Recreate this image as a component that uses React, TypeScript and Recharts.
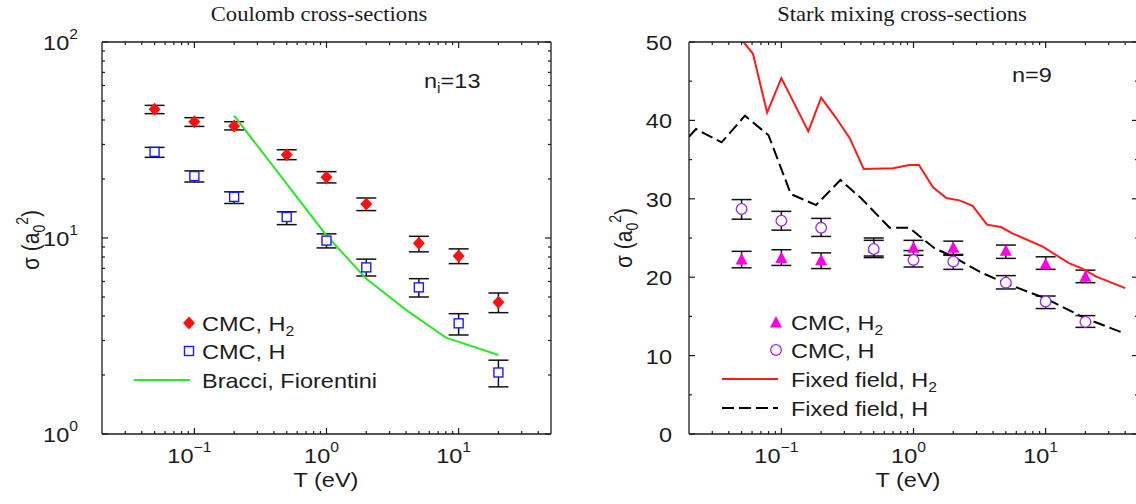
import { ComposedChart, ErrorBar, Legend, Line, Scatter, XAxis, YAxis } from 'recharts';

// temperatures of the CMC runs (eV)
const temps = [0.05, 0.1, 0.2, 0.5, 1, 2, 5, 10, 20];

// Coulomb cross-sections, n_i = 13
const coulombH2 = [45.4, 39.2, 37.3, 26.6, 20.4, 14.9, 9.4, 8.1, 4.7];
const coulombH2Low = [43.1, 37.1, 35.6, 25.1, 19.1, 13.8, 8.5, 7.4, 4.16];
const coulombH2High = [47.5, 41.1, 39.2, 28.2, 21.8, 16.0, 10.2, 8.8, 5.24];
const coulombH = [27.5, 20.7, 16.2, 12.8, 9.7, 7.08, 5.6, 3.67, 2.06];
const coulombHLow = [25.8, 19.3, 15.0, 11.7, 8.9, 6.4, 5.0, 3.2, 1.74];
const coulombHHigh = [29.0, 22.0, 17.2, 13.6, 10.5, 7.8, 6.2, 4.11, 2.38];
const bracciT = [0.2, 1, 2, 4, 8, 20];
const bracciSigma = [42.1, 10.3, 6.2, 4.3, 3.1, 2.53];

// Stark mixing cross-sections, n = 9
const starkH2 = [22.2, 22.4, 22.1, 23.7, 23.7, 23.7, 23.3, 21.6, 20.0];
const starkH2Low = [21.2, 21.5, 21.1, 22.7, 22.8, 22.9, 22.4, 21.0, 19.3];
const starkH2High = [23.3, 23.5, 23.1, 24.7, 24.7, 24.6, 24.1, 22.6, 20.9];
const starkH = [28.7, 27.2, 26.3, 23.6, 22.2, 22.0, 19.3, 16.9, 14.3];
const starkHLow = [27.4, 26.0, 25.2, 22.5, 21.3, 21.0, 18.5, 16.0, 13.6];
const starkHHigh = [29.9, 28.4, 27.5, 25.0, 23.4, 22.8, 20.2, 17.6, 15.1];
const fixedH2T = [0.05, 0.061, 0.078, 0.1, 0.16, 0.2, 0.26, 0.33, 0.42, 0.7, 0.93, 1.1, 1.4, 1.77, 2.23, 2.8, 3.6, 4.6, 5.6, 9.5, 15, 19, 24, 40];
const fixedH2Sigma = [50.3, 48.5, 41.0, 45.4, 38.6, 42.9, 40.3, 37.7, 33.8, 33.9, 34.3, 34.3, 31.5, 30.1, 29.8, 29.1, 26.7, 26.4, 25.6, 23.9, 21.8, 21.1, 20.1, 18.6];
const fixedHT = [0.02, 0.0226, 0.0353, 0.053, 0.08, 0.118, 0.183, 0.28, 0.4, 0.66, 0.93, 1.44, 2.0, 3.16, 5.0, 10, 19.7, 40];
const fixedHSigma = [37.9, 38.9, 37.2, 40.6, 38.1, 30.6, 29.2, 32.4, 30.1, 26.3, 26.3, 23.7, 22.6, 20.7, 19.2, 17.3, 14.8, 12.8];

// axes
const xTicks = [0.03, 0.04, 0.05, 0.06, 0.07, 0.08, 0.09, 0.1, 0.2, 0.3, 0.4, 0.5, 0.6, 0.7, 0.8, 0.9, 1, 2, 3, 4, 5, 6, 7, 8, 9, 10, 20, 30, 40];
const xMajors = [0.1, 1, 10];
const xExponents = ['−1', '0', '1'];
const logYTicks = [1, 2, 3, 4, 5, 6, 7, 8, 9, 10, 20, 30, 40, 50, 60, 70, 80, 90, 100];
const logYMajors = [1, 10, 100];
const logYExponents = ['0', '1', '2'];
const linYTicks = [0, 5, 10, 15, 20, 25, 30, 35, 40, 45, 50];
const linYMajors = [0, 10, 20, 30, 40, 50];

const withErr = (ys: number[], lo: number[], hi: number[]) =>
  temps.map((x, i) => ({ x, y: ys[i], err: [ys[i] - lo[i], hi[i] - ys[i]] }));
const curve = (xs: number[], ys: number[]) => xs.map((x, i) => ({ x, y: ys[i] }));

const INK = '#1c1c1c';
const SANS = '"Liberation Sans", Arial, sans-serif';
const SERIF = '"Liberation Serif", "Times New Roman", serif';
const SX = 'scale(1.12 1)';
const FS = 21;

function Tick(props: any) {
  const { x, y, payload, side, majors, exps, linear } = props;
  const i = majors.indexOf(payload.value);
  const len = i >= 0 ? 6 : 3;
  const line =
    side === 'bottom' ? [x, y, x, y - len] :
    side === 'top' ? [x, y, x, y + len] :
    side === 'left' ? [x, y, x + len, y] : [x, y, x - len, y];
  let label = null;
  if (i >= 0 && side === 'bottom') {
    label = (
      <text transform={`translate(${x - 5} ${y + 29}) ${SX}`} textAnchor="middle" fontSize={FS} fill={INK}>
        10<tspan dy={-11} fontSize={14}>{exps[i]}</tspan>
      </text>
    );
  } else if (i >= 0 && side === 'left' && linear) {
    label = (
      <text transform={`translate(${x - 17} ${y + 8}) ${SX}`} textAnchor="end" fontSize={FS} fill={INK}>
        {payload.value}
      </text>
    );
  } else if (i >= 0 && side === 'left') {
    label = (
      <text transform={`translate(${x - 24} ${y + 8}) ${SX}`} textAnchor="end" fontSize={FS} fill={INK}>
        10<tspan dy={-11} fontSize={14}>{exps[i]}</tspan>
      </text>
    );
  }
  return (
    <g>
      <line x1={line[0]} y1={line[1]} x2={line[2]} y2={line[3]} stroke={INK} strokeWidth={1.2} />
      {label}
    </g>
  );
}

const Diamond = (p: any) => (
  <polygon points={`${p.cx},${p.cy - 6.5} ${p.cx + 6},${p.cy} ${p.cx},${p.cy + 6.5} ${p.cx - 6},${p.cy}`} fill="#ff1010" />
);
const Square = (p: any) => (
  <rect x={p.cx - 4.5} y={p.cy - 4.5} width={9} height={9} fill="#fff" stroke="#1a1aff" strokeWidth={1.4} />
);
const Triangle = (p: any) => (
  <polygon points={`${p.cx},${p.cy - 7} ${p.cx + 6},${p.cy + 4.5} ${p.cx - 6},${p.cy + 4.5}`} fill="#ff00e6" />
);
const Ring = (p: any) => <circle cx={p.cx} cy={p.cy} r={5.3} fill="#fff" stroke="#9a2be8" strokeWidth={1.3} />;

function SText({ x, y, size = FS, anchor = 'start', family = SANS, sx = SX, children }: any) {
  return (
    <text transform={`translate(${x} ${y}) ${sx}`} textAnchor={anchor} fontSize={size} fontFamily={family} fill={INK}>
      {children}
    </text>
  );
}

function AxisTitles({ xt, yt }: { xt: number[]; yt: number[] }) {
  return (
    <>
      <SText x={xt[0]} y={xt[1]} anchor="middle">T (eV)</SText>
      <text transform={`translate(${yt[0]} ${yt[1]}) rotate(-90) scale(1 1.12)`} textAnchor="middle" fontSize={FS} fontFamily={SANS} fill={INK}>
        σ (a<tspan dy={5} fontSize={14}>0</tspan>
        <tspan dy={-15} fontSize={14}>2</tspan>
        <tspan dy={10}>)</tspan>
      </text>
    </>
  );
}

function CoulombOverlay() {
  return (
    <svg width={560} height={504} style={{ position: 'absolute', left: 0, top: 0, fontFamily: SANS }}>
      <SText x={319} y={21} size={20} anchor="middle" family={SERIF} sx="scale(1.13 1)">Coulomb cross-sections</SText>
      <SText x={424} y={88}>
        n<tspan dy={5} fontSize={14}>i</tspan><tspan dy={-5}>=13</tspan>
      </SText>
      <AxisTitles xt={[326, 487]} yt={[39, 240]} />
      <Diamond cx={189} cy={323} />
      <SText x={202} y={331}>CMC, H<tspan dy={5} fontSize={14}>2</tspan></SText>
      <Square cx={189} cy={351} />
      <SText x={202} y={359}>CMC, H</SText>
      <line x1={134} x2={190} y1={380} y2={380} stroke="#2ee62e" strokeWidth={2} />
      <SText x={202} y={388}>Bracci, Fiorentini</SText>
    </svg>
  );
}

function StarkOverlay() {
  return (
    <svg width={600} height={504} style={{ position: 'absolute', left: 0, top: 0, fontFamily: SANS }}>
      <SText x={342} y={21} size={20} anchor="middle" family={SERIF} sx="scale(1.13 1)">Stark mixing cross-sections</SText>
      <SText x={452} y={82}>n=9</SText>
      <AxisTitles xt={[348, 487]} yt={[72, 238]} />
      <Triangle cx={216} cy={323} />
      <SText x={231} y={330}>CMC, H<tspan dy={5} fontSize={14}>2</tspan></SText>
      <Ring cx={216} cy={350} />
      <SText x={231} y={358}>CMC, H</SText>
      <line x1={162} x2={218} y1={379} y2={379} stroke="#ff1a1a" strokeWidth={2} />
      <SText x={231} y={387}>Fixed field, H<tspan dy={5} fontSize={14}>2</tspan></SText>
      <line x1={162} x2={218} y1={408} y2={408} stroke="#000" strokeWidth={2} strokeDasharray="12 5" />
      <SText x={231} y={416}>Fixed field, H</SText>
    </svg>
  );
}

function xAxes() {
  return [
    <XAxis key="b" xAxisId="b" dataKey="x" type="number" scale="log" domain={[0.02, 50]} allowDataOverflow
      ticks={xTicks} interval={0} height={70} tickSize={0} tickMargin={0} tickLine={false}
      axisLine={{ stroke: INK, strokeWidth: 1.3 }}
      tick={(p: any) => <Tick {...p} side="bottom" majors={xMajors} exps={xExponents} />} />,
    <XAxis key="t" xAxisId="t" orientation="top" dataKey="x" type="number" scale="log" domain={[0.02, 50]} allowDataOverflow
      ticks={xTicks} interval={0} height={1} tickSize={0} tickMargin={0} tickLine={false}
      axisLine={{ stroke: INK, strokeWidth: 1.3 }}
      tick={(p: any) => <Tick {...p} side="top" majors={xMajors} exps={xExponents} />} />,
  ];
}

export default function App() {
  const legendWrap = { left: 0, top: 0, width: '100%', height: '100%', pointerEvents: 'none' as const };
  return (
    <div style={{ position: 'fixed', left: 0, top: 0, width: 1136, height: 504, background: '#fff', overflow: 'hidden', fontFamily: SANS }}>
      <div style={{ position: 'absolute', left: 0, top: 0 }}>
        <ComposedChart width={560} height={504} margin={{ top: 41, right: 8, bottom: 0, left: 0 }}>
          {xAxes()}
          <YAxis yAxisId="l" type="number" scale="log" domain={[1, 100]} allowDataOverflow ticks={logYTicks} interval={0}
            width={102} tickSize={0} tickMargin={0} tickLine={false} axisLine={{ stroke: INK, strokeWidth: 1.3 }}
            tick={(p: any) => <Tick {...p} side="left" majors={logYMajors} exps={logYExponents} />} />
          <YAxis yAxisId="r" orientation="right" type="number" scale="log" domain={[1, 100]} allowDataOverflow ticks={logYTicks}
            interval={0} width={1} tickSize={0} tickMargin={0} tickLine={false} axisLine={{ stroke: INK, strokeWidth: 1.3 }}
            tick={(p: any) => <Tick {...p} side="right" majors={logYMajors} exps={logYExponents} />} />
          <Scatter xAxisId="b" yAxisId="l" data={withErr(coulombH2, coulombH2Low, coulombH2High)} dataKey="y" shape={Diamond} isAnimationActive={false}>
            <ErrorBar dataKey="err" direction="y" width={10} stroke="#111" strokeWidth={1.5} />
          </Scatter>
          <Scatter xAxisId="b" yAxisId="l" data={withErr(coulombH, coulombHLow, coulombHHigh)} dataKey="y" shape={Square} isAnimationActive={false}>
            <ErrorBar dataKey="err" direction="y" width={10} stroke="#111" strokeWidth={1.5} />
          </Scatter>
          <Line xAxisId="b" yAxisId="l" data={curve(bracciT, bracciSigma)} dataKey="y" stroke="#2ee62e" strokeWidth={2} dot={false} isAnimationActive={false} />
          <Legend layout="horizontal" verticalAlign="middle" align="center" wrapperStyle={legendWrap} content={() => <CoulombOverlay />} />
        </ComposedChart>
      </div>
      <div style={{ position: 'absolute', left: 560, top: 0 }}>
        <ComposedChart width={600} height={504} margin={{ top: 41, right: 21, bottom: 0, left: 0 }}>
          {xAxes()}
          <YAxis yAxisId="l" type="number" domain={[0, 50]} allowDataOverflow ticks={linYTicks} interval={0}
            width={129} tickSize={0} tickMargin={0} tickLine={false} axisLine={{ stroke: INK, strokeWidth: 1.3 }}
            tick={(p: any) => <Tick {...p} side="left" majors={linYMajors} linear />} />
          <YAxis yAxisId="r" orientation="right" type="number" domain={[0, 50]} allowDataOverflow ticks={linYTicks}
            interval={0} width={1} tickSize={0} tickMargin={0} tickLine={false} axisLine={{ stroke: INK, strokeWidth: 1.3 }}
            tick={(p: any) => <Tick {...p} side="right" majors={linYMajors} />} />
          <Scatter xAxisId="b" yAxisId="l" data={withErr(starkH2, starkH2Low, starkH2High)} dataKey="y" shape={Triangle} isAnimationActive={false}>
            <ErrorBar dataKey="err" direction="y" width={10} stroke="#111" strokeWidth={1.5} />
          </Scatter>
          <Scatter xAxisId="b" yAxisId="l" data={withErr(starkH, starkHLow, starkHHigh)} dataKey="y" shape={Ring} isAnimationActive={false}>
            <ErrorBar dataKey="err" direction="y" width={10} stroke="#111" strokeWidth={1.5} />
          </Scatter>
          <Line xAxisId="b" yAxisId="l" data={curve(fixedH2T, fixedH2Sigma)} dataKey="y" stroke="#ff1a1a" strokeWidth={2} dot={false} isAnimationActive={false} />
          <Line xAxisId="b" yAxisId="l" data={curve(fixedHT, fixedHSigma)} dataKey="y" stroke="#000" strokeWidth={2} strokeDasharray="12 5" dot={false} isAnimationActive={false} />
          <Legend layout="horizontal" verticalAlign="middle" align="center" wrapperStyle={legendWrap} content={() => <StarkOverlay />} />
        </ComposedChart>
      </div>
    </div>
  );
}
